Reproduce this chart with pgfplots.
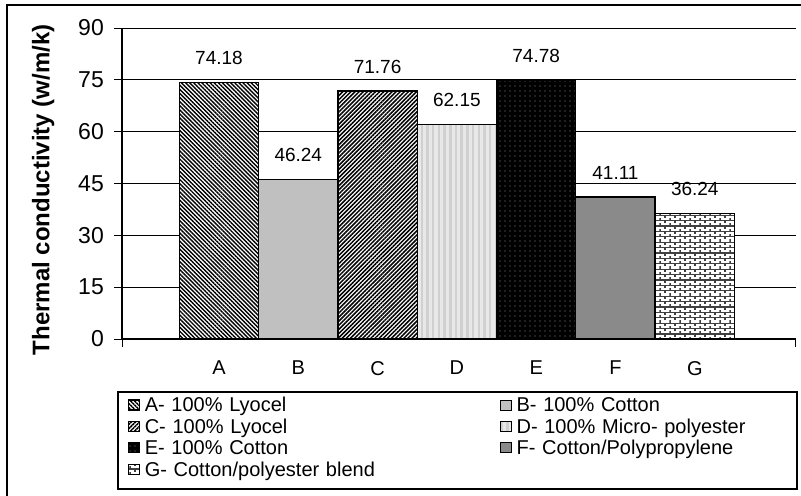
\documentclass[border=0pt]{standalone}
\usepackage{fontspec}
\setmainfont{Liberation Sans}
\usepackage{pgfplots}
\pgfplotsset{compat=1.18}
\usetikzlibrary{patterns,patterns.meta}

\definecolor{fillB}{HTML}{C0C0C0}
\definecolor{fillD}{HTML}{E8E8E8}
\definecolor{stripeD}{HTML}{D0D0D0}
\definecolor{fillF}{HTML}{B4B4B4}
\definecolor{mortarG}{HTML}{404040}

% small horizontal brick pattern
\pgfdeclarepatternformonly{smallbricks}{\pgfpoint{-0.6bp}{-0.6bp}}{\pgfpoint{10.6bp}{6bp}}{\pgfpoint{10bp}{5.4bp}}{%
  \pgfsetlinewidth{1.1bp}%
  \pgfpathmoveto{\pgfpoint{0bp}{0bp}}\pgfpathlineto{\pgfpoint{10bp}{0bp}}%
  \pgfpathmoveto{\pgfpoint{0bp}{0bp}}\pgfpathlineto{\pgfpoint{0bp}{2.7bp}}%
  \pgfpathmoveto{\pgfpoint{5bp}{2.7bp}}\pgfpathlineto{\pgfpoint{5bp}{5.4bp}}%
  \pgfusepath{stroke}}

\newcommand\chartfont{\fontsize{19bp}{22bp}\selectfont}

\begin{document}
\begin{tikzpicture}
\useasboundingbox (0,0) rectangle (801bp,-496bp);
% outer frame
\draw[line width=1.5bp] (7bp,-5bp) rectangle (812bp,-510bp);
\begin{axis}[
  at={(122bp,-339bp)}, anchor=south west,
  x=79.3bp, y=3.4556bp,
  xmin=-1.223, xmax=7.274, ymin=0, ymax=90,
  axis x line=bottom, axis y line=left,
  axis line style={-, line width=1.5bp, black},
  ybar=0pt, bar width=1, bar shift=0pt,
  /pgf/number format/assume math mode=true,
  ytick={0,15,...,90},
  tick align=outside,
  major tick length=8bp,
  every tick/.style={black, line width=1bp},
  ymajorgrids, grid style={black, line width=1bp},
  xtick={-1.223,7.274}, xticklabels={},
  extra x ticks={0,1,2,3,4,5,6},
  extra x tick labels={A,B,C,D,E,F,G},
  extra x tick style={major tick length=0pt,
    tick label style={anchor=north, inner sep=0pt, yshift=-22bp,
      font=\fontsize{20bp}{22bp}\selectfont}},
  y tick label style={anchor=east, inner sep=0pt, xshift=-10bp,
    font=\fontsize{23bp}{26bp}\selectfont},
  ylabel={\bfseries Thermal conductivity (w/m/k)},
  ylabel style={at={(axis description cs:-0.117,0.48)}, anchor=center,
    font=\fontsize{24bp}{26bp}\selectfont},
  nodes near coords,
  nodes near coords style={font=\chartfont, anchor=south, inner sep=0pt, yshift=17bp,
    /pgf/number format/.cd, fixed, fixed zerofill, precision=2},
  legend columns=2,
  legend cell align=left,
  legend style={at={(axis description cs:0.0089,-0.1904)}, anchor=north west,
    draw=none, fill=none, inner sep=0pt, outer sep=0pt,
    column sep=0pt, row sep=2.4bp,
    nodes={font=\fontsize{20bp}{22bp}\selectfont, text height=13.6bp, text depth=5.4bp,
      inner ysep=0pt, inner xsep=5bp, text width=350bp}},
  legend image code/.code={\draw[#1, line width=0.8bp] (0bp,-2.3bp) rectangle (11bp,7.7bp);},
]
\addplot[draw=black, line width=1.3bp, preaction={fill=white},
  pattern={Lines[angle=-45,distance=2.9bp,line width=1.4bp]}, pattern color=black]
  coordinates {(0,74.18)};
\addlegendentry{A- 100\% Lyocel}
\addplot[draw=black, line width=1.3bp, fill=fillB]
  coordinates {(1,46.24)};
\addlegendentry{B- 100\% Cotton}
\addplot[draw=black, line width=1.3bp, preaction={fill=white},
  pattern={Lines[angle=45,distance=2.9bp,line width=1.5bp]}, pattern color=black]
  coordinates {(2,71.76)};
\addlegendentry{C- 100\% Lyocel}
\addplot[draw=black, line width=1.3bp, preaction={fill=fillD},
  pattern={Lines[angle=90,distance=5.7bp,line width=2.5bp]}, pattern color=stripeD]
  coordinates {(3,62.15)};
\addlegendentry{D- 100\% Micro- polyester}
\addplot[draw=black, line width=1.3bp, preaction={fill=black},
  pattern={Dots[distance=5bp,radius=0.6bp]}, pattern color=black!45]
  coordinates {(4,74.78)};
\addlegendentry{E- 100\% Cotton}
\addplot[draw=black, line width=1.3bp, preaction={fill=fillF},
  pattern={Dots[distance=2bp,radius=0.6bp]}, pattern color=black]
  coordinates {(5,41.11)};
\addlegendentry{F- Cotton/Polypropylene}
\addplot[draw=black, line width=1.3bp, preaction={fill=white},
  pattern=smallbricks, pattern color=mortarG]
  coordinates {(6,36.24)};
\addlegendentry{G- Cotton/polyester blend}
\end{axis}
% legend frame
\draw[line width=1.5bp] (118bp,-392bp) rectangle (797bp,-489bp);
\end{tikzpicture}
\end{document}
